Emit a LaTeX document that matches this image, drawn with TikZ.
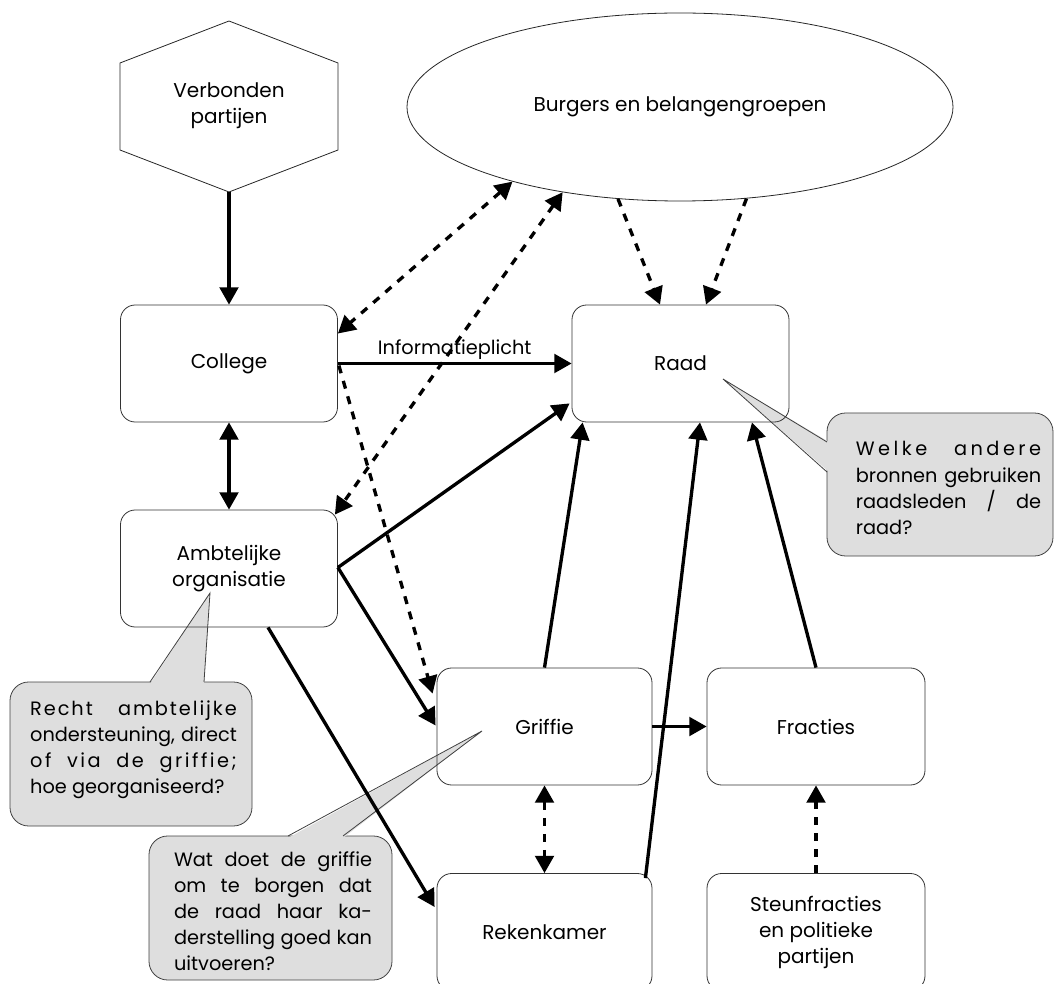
\documentclass[tikz,border=0pt]{standalone}
\usepackage{fontspec}
\setmainfont{Poppins}
\usetikzlibrary{arrows.meta,shapes.geometric,calc}
\newcommand\diagfont{\fontsize{15}{19.5}\selectfont}
\newcommand\callfont{\fontsize{14.5}{19.6}\selectfont\hyphenpenalty=10000 }
\newcommand\spaced[2]{{\addfontfeatures{LetterSpace=#1}#2}}
\begin{document}
\begin{tikzpicture}[x=0.75pt,y=-0.75pt,
  box/.style={draw=black!80, line width=0.6pt, rounded corners=11pt,
    minimum width=162.75pt, minimum height=87.75pt, align=center,
    font=\diagfont, inner sep=2pt},
  outline/.style={draw=black!85, line width=0.6pt},
  callbox/.style={draw=black!75, line width=0.6pt, fill=black!13,
    rounded corners=14pt, inner sep=0pt},
  calltip/.style={fill=black!13},
  calledge/.style={draw=black!75, line width=0.6pt},
  calltext/.style={align=justify, font=\callfont, inner sep=0pt},
  conn/.style={line width=2.5pt, -{Triangle[length=13pt,width=14pt]}},
  both/.style={line width=2.5pt, {Triangle[length=13pt,width=14pt]}-{Triangle[length=13pt,width=14pt]}},
  dline/.style={dash pattern=on 6pt off 6pt}
]
\useasboundingbox (0,0) rectangle (1054,984);
\clip (0,0) rectangle (1054,984);

% hexagon
\draw[outline] (229,21) -- (338,63) -- (338,150) -- (229,192) -- (120,150) -- (120,63) -- cycle;
\node[align=center, font=\diagfont] (verb) at (229,106) {Verbonden\\partijen};
\coordinate (hexbot) at (229,192);

% ellipse
\node[outline, ellipse, minimum width=409.5pt, minimum height=141pt, inner sep=0pt,
  font=\diagfont] (burg) at (680,107) {Burgers en belangengroepen};

% callouts (drawn below boxes)
\node[callbox, minimum width=181.5pt, minimum height=108pt] (c1) at (131,754) {};
\fill[calltip] (150,684) -- (210,593) -- (204,684) -- cycle;
\draw[calledge] (150,682) -- (210,593) -- (204,682);
\node[calltext, text width=155pt] (t1) at (133.5,750)
  {\spaced{10}{Recht ambtelijke}\linebreak ondersteuning, direct\linebreak \spaced{13}{of via de griffie;}\linebreak hoe georganiseerd?};

\node[callbox, minimum width=169.5pt, minimum height=107.25pt] (c2) at (940,484.5) {};
\fill[calltip] (829,442) -- (723,379) -- (829,472) -- cycle;
\draw[calledge] (827,442) -- (723,379) -- (827,472);
\node[calltext, text width=139pt] (t2) at (948.5,488)
  {\spaced{18}{Welke andere}\linebreak bronnen gebruiken\linebreak raadsleden / de\linebreak raad?};

\node[callbox, minimum width=182.25pt, minimum height=108pt] (c3) at (270.5,908) {};
\fill[calltip] (288,838) -- (482,731) -- (343,838) -- cycle;
\draw[calledge] (288,836) -- (482,731) -- (343,836);
\node[calltext, text width=148.5pt] (t3) at (273,911)
  {Wat doet de griffie\linebreak om te borgen dat\linebreak de raad haar ka-\linebreak derstelling goed kan\linebreak uitvoeren?};

% boxes
\node[box] (college) at (229,363.5) {College};
\node[box] (raad) at (680.5,363.5) {Raad};
\node[box] (amb) at (229,568.5) {Ambtelijke\\organisatie};
\node[box, minimum width=161.25pt] (griffie) at (544.5,726.5) {Griffie};
\node[box, minimum width=163.5pt] (fracties) at (816,726.5) {Fracties};
\node[box, minimum width=161.25pt] (reken) at (544.5,932) {Rekenkamer};
\node[box, minimum width=163.5pt] (steun) at (816,932) {Steunfracties\\en politieke\\partijen};

% solid connectors
\draw[conn] (hexbot) -- (college.north);
\draw[both] (college.south) -- (amb.north);
\draw[conn] (college.east) -- node[above, inner sep=2pt, font=\callfont] (lbl) {Informatieplicht} (raad.west);
\draw[conn] ($(amb.east)+(0,-1)$) -- ($(raad.south west)+(-2,-19)$);
\draw[conn] ($(amb.east)+(0,-1)$) -- ($(griffie.west)+(-1,-1)$);
\draw[conn] ($(amb.south)+(39,0)$) -- ($(reken.west)+(-2,-25)$);
\draw[conn] (griffie.north) -- ($(raad.south west)+(11,0)$);
\draw[conn] ($(reken.north east)+(-7,5)$) -- ($(raad.south)+(19.5,0)$);
\draw[conn] (fracties.north) -- ($(raad.south)+(71.5,0)$);
\draw[conn] (griffie.east) -- (fracties.west);

% dashed connectors
\draw[both, dline] (burg.204.5) -- ($(college.east)+(0,-30)$);
\draw[both, dline] (burg.216.8) -- ($(amb.north east)+(-3,5)$);
\draw[conn, dline] (burg.236) -- ($(raad.north)+(-20.5,0)$);
\draw[conn, dline] (burg.306.8) -- ($(raad.north)+(25.5,0)$);
\draw[conn, dline] ($(college.east)+(1,2)$) -- ($(griffie.west)+(-4,-33)$);
\draw[both, dline] (griffie.south) -- (reken.north);
\draw[conn, dline] (steun.north) -- (fracties.south);
\end{tikzpicture}
\end{document}
